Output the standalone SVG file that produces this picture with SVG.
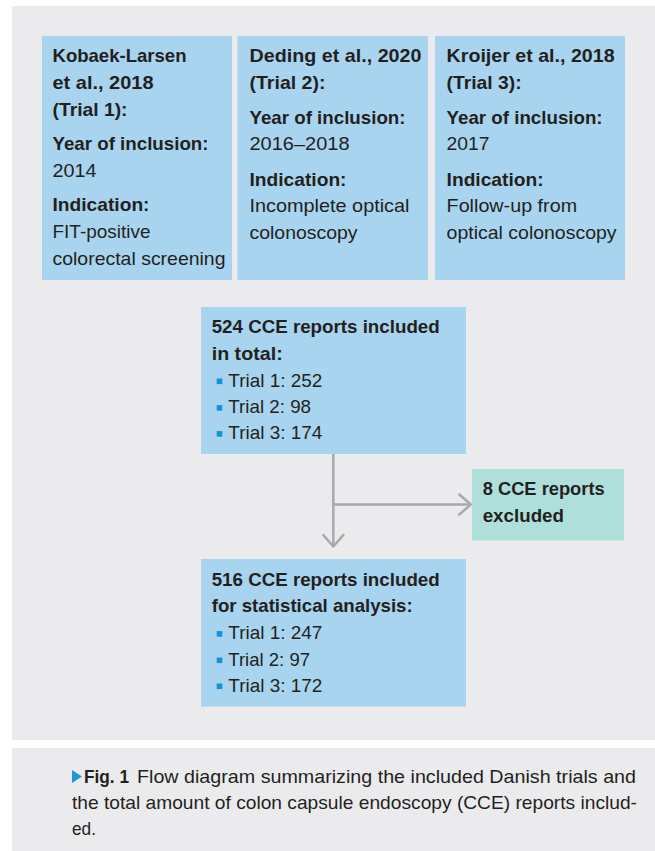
<svg xmlns="http://www.w3.org/2000/svg" width="655" height="851" viewBox="0 0 655 851">
<style>
.panel{fill:#ebebed}
.blue{fill:#a9d4ef}
.teal{fill:#afdfdb}
.b{font-family:"Liberation Sans",Arial,sans-serif;font-weight:bold;font-size:19px;fill:#231f20}
.r{font-family:"Liberation Sans",Arial,sans-serif;font-size:19px;fill:#231f20}
.bul{fill:#1592d6}
.conn{stroke:#a9a9ab;stroke-width:2.5;fill:none}
.head{stroke:#a9a9ab;stroke-width:2.5;fill:none;stroke-linejoin:round;stroke-linecap:round}
</style>
<defs>
<marker id="chev" markerUnits="userSpaceOnUse" viewBox="-14 -12 16 24" refX="0" refY="0" markerWidth="16" markerHeight="24" orient="auto">
<path class="head" d="M-11.5,-10 L0,0 L-11.5,10"/>
</marker>
</defs>
<rect width="655" height="851" fill="#ffffff"/>
<rect class="panel" x="12" y="6" width="643" height="734"/>
<rect class="panel" x="12" y="748" width="643" height="103"/>

<g id="trial1">
<rect class="blue" x="42" y="36" width="190" height="244"/>
<text class="b" x="52.5" y="62.4" textLength="134" lengthAdjust="spacingAndGlyphs">Kobaek-Larsen</text>
<text class="b" x="52.5" y="89" textLength="101" lengthAdjust="spacingAndGlyphs">et al., 2018</text>
<text class="b" x="52.5" y="115.5" textLength="75" lengthAdjust="spacingAndGlyphs">(Trial 1):</text>
<text class="b" x="52.5" y="150.4" textLength="156" lengthAdjust="spacingAndGlyphs">Year of inclusion:</text>
<text class="r" x="52.5" y="177" textLength="44" lengthAdjust="spacingAndGlyphs">2014</text>
<text class="b" x="52.5" y="211" textLength="97" lengthAdjust="spacingAndGlyphs">Indication:</text>
<text class="r" x="52.5" y="238" textLength="98" lengthAdjust="spacingAndGlyphs">FIT-positive</text>
<text class="r" x="52.5" y="265" textLength="173" lengthAdjust="spacingAndGlyphs">colorectal screening</text>
</g>

<g id="trial2">
<rect class="blue" x="237.5" y="36" width="190.5" height="244"/>
<text class="b" x="249.5" y="62.4" textLength="172" lengthAdjust="spacingAndGlyphs">Deding et al., 2020</text>
<text class="b" x="249.5" y="89" textLength="76" lengthAdjust="spacingAndGlyphs">(Trial 2):</text>
<text class="b" x="249.5" y="123.6" textLength="156" lengthAdjust="spacingAndGlyphs">Year of inclusion:</text>
<text class="r" x="249.5" y="150.4" textLength="100" lengthAdjust="spacingAndGlyphs">2016–2018</text>
<text class="b" x="249.5" y="185.5" textLength="97" lengthAdjust="spacingAndGlyphs">Indication:</text>
<text class="r" x="249.5" y="212" textLength="160" lengthAdjust="spacingAndGlyphs">Incomplete optical</text>
<text class="r" x="249.5" y="238.5" textLength="108" lengthAdjust="spacingAndGlyphs">colonoscopy</text>
</g>

<g id="trial3">
<rect class="blue" x="435" y="36" width="190" height="244"/>
<text class="b" x="446.6" y="62.4" textLength="168" lengthAdjust="spacingAndGlyphs">Kroijer et al., 2018</text>
<text class="b" x="446.6" y="89" textLength="75" lengthAdjust="spacingAndGlyphs">(Trial 3):</text>
<text class="b" x="446.6" y="123.6" textLength="156" lengthAdjust="spacingAndGlyphs">Year of inclusion:</text>
<text class="r" x="446.6" y="150.4" textLength="43" lengthAdjust="spacingAndGlyphs">2017</text>
<text class="b" x="446.6" y="185.5" textLength="97" lengthAdjust="spacingAndGlyphs">Indication:</text>
<text class="r" x="446.6" y="212" textLength="130.5" lengthAdjust="spacingAndGlyphs">Follow-up from</text>
<text class="r" x="446.6" y="238.5" textLength="170" lengthAdjust="spacingAndGlyphs">optical colonoscopy</text>
</g>

<g id="total">
<rect class="blue" x="201" y="307" width="265" height="147"/>
<text class="b" x="211.7" y="333.3" textLength="228" lengthAdjust="spacingAndGlyphs">524 CCE reports included</text>
<text class="b" x="211.7" y="360" textLength="71" lengthAdjust="spacingAndGlyphs">in total:</text>
<rect class="bul" x="216.7" y="378.5" width="5.6" height="5.6"/>
<text class="r" x="228.3" y="386.7" textLength="94" lengthAdjust="spacingAndGlyphs">Trial 1: 252</text>
<rect class="bul" x="216.7" y="405.1" width="5.6" height="5.6"/>
<text class="r" x="228.3" y="413.3" textLength="82.7" lengthAdjust="spacingAndGlyphs">Trial 2: 98</text>
<rect class="bul" x="216.7" y="431.1" width="5.6" height="5.6"/>
<text class="r" x="228.3" y="439.3" textLength="94" lengthAdjust="spacingAndGlyphs">Trial 3: 174</text>
</g>

<g id="excluded">
<rect class="teal" x="472" y="469" width="152" height="71.5"/>
<text class="b" x="482.7" y="495" textLength="122" lengthAdjust="spacingAndGlyphs">8 CCE reports</text>
<text class="b" x="482.7" y="521.7" textLength="81.3" lengthAdjust="spacingAndGlyphs">excluded</text>
</g>

<g id="analysis">
<rect class="blue" x="201" y="559" width="265" height="147.5"/>
<text class="b" x="211.7" y="585.7" textLength="228" lengthAdjust="spacingAndGlyphs">516 CCE reports included</text>
<text class="b" x="211.7" y="612.3" textLength="201" lengthAdjust="spacingAndGlyphs">for statistical analysis:</text>
<rect class="bul" x="216.7" y="631.1" width="5.6" height="5.6"/>
<text class="r" x="228.3" y="639.3" textLength="94" lengthAdjust="spacingAndGlyphs">Trial 1: 247</text>
<rect class="bul" x="216.7" y="657.5" width="5.6" height="5.6"/>
<text class="r" x="228.3" y="665.7" textLength="81.7" lengthAdjust="spacingAndGlyphs">Trial 2: 97</text>
<rect class="bul" x="216.7" y="683.5" width="5.6" height="5.6"/>
<text class="r" x="228.3" y="691.7" textLength="94" lengthAdjust="spacingAndGlyphs">Trial 3: 172</text>
</g>

<g id="connectors">
<line class="conn" x1="333.3" y1="454" x2="333.3" y2="546.5" marker-end="url(#chev)"/>
<line class="conn" x1="333.3" y1="504.5" x2="470.8" y2="504.5" marker-end="url(#chev)"/>
</g>

<g id="caption">
<polygon fill="#1a9ad6" points="72,770 82,776.5 72,783"/>
<text class="b" x="84" y="783" textLength="45" lengthAdjust="spacingAndGlyphs">Fig. 1</text>
<text class="r" x="137" y="783" textLength="499" lengthAdjust="spacingAndGlyphs">Flow diagram summarizing the included Danish trials and</text>
<text class="r" x="72" y="809" textLength="565" lengthAdjust="spacingAndGlyphs">the total amount of colon capsule endoscopy (CCE) reports includ-</text>
<text class="r" x="72" y="835" textLength="24" lengthAdjust="spacingAndGlyphs">ed.</text>
</g>
</svg>
